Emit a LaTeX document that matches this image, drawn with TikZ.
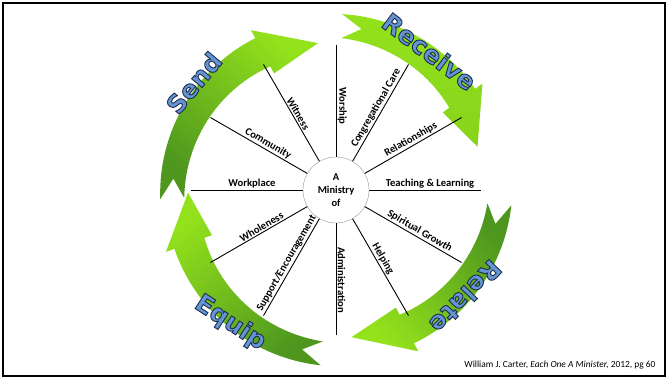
\documentclass[tikz,border=0pt]{standalone}
\usepackage{fontspec}
\setmainfont{Carlito}
\newfontfamily\wordfont{DejaVu Sans}
\definecolor{limegreen}{RGB}{148,226,28}
\definecolor{leafgreen}{RGB}{78,150,30}
\definecolor{wordblue}{RGB}{100,148,210}
\definecolor{hubgrey}{RGB}{150,150,150}

% blue letters with a dark navy outline (text render mode 2)
\newcommand{\bigword}[1]{\special{pdf:literal direct q}{\color{wordblue}%
  \special{pdf:literal direct 2 Tr 0.9 w 0.12 0.18 0.31 RG}#1%
  \special{pdf:literal direct 0 Tr}}\special{pdf:literal direct Q}}
% curved arrow round the hub: [extra shading], tail angle, head base angle, tip angle, shading angle
\newcommand{\ringarrow}[5][]{%
  \shade[top color=limegreen, bottom color=leafgreen, shading angle=#5, #1]
    plot[variable=\a, domain=#2:#3, samples=30] (\a:{rout(\a,#2,#3)})
    -- (#3:181) -- (#4:148) -- (#3:132)
    -- plot[variable=\a, domain=#3:#2, samples=30] (\a:{rin(\a,#2,#3)})
    -- ({#2-7}:163) -- cycle;}

\begin{document}
\begin{tikzpicture}[x=1pt, y=1pt,
  declare function={
    fr(\a,\t,\b) = (\a-\t)/(\b-\t);
    rout(\a,\t,\b) = 164 - 8*fr(\a,\t,\b) + 12 + 4*fr(\a,\t,\b);
    rin(\a,\t,\b) = 164 - 8*fr(\a,\t,\b) - 12 - 4*fr(\a,\t,\b);
  },
  spoke/.style={line width=0.9pt},
  hub/.style={circle, draw=hubgrey, fill=white, minimum size=66pt, inner sep=0pt,
    align=center, font=\bfseries\fontsize{10.5}{13}\selectfont},
  lbl/.style={font=\bfseries\fontsize{10.6}{12}\selectfont, inner sep=1.5pt, anchor=south},
  word/.style={font=\wordfont\bfseries\fontsize{25}{30}\selectfont, inner sep=0pt}]
  \useasboundingbox (-336,-188) rectangle (332,190);
  \draw[line width=2pt] (-332.5,186.5) rectangle (328.5,-185.5);

  % the four arrows
  \ringarrow{183}{118}{97}{-41}
  \ringarrow[middle color=leafgreen!85!limegreen, bottom color=limegreen!80!leafgreen]{88}{36}{17}{-130}
  \ringarrow{-5}{-63}{-84}{133}
  \ringarrow{265}{200}{181}{40}

  \node[hub] (hub) at (0,0) {A\\Ministry\\of};

  \foreach \ang/\rot/\dist/\txt in {90/-90/84/Worship, 60/60/91/Congregational Care,
      30/30/90/Relationships, 0/0/94/Teaching \& Learning, -30/-30/93/Spiritual Growth,
      -60/-60/83/Helping, -90/-90/90/Administration, 240/60/88/{Support/Encouragement},
      210/30/83/Wholeness, 180/0/84/Workplace, 150/-30/82/Community, 120/-60/85/Witness}{
    \coordinate (end\ang) at (\ang:145);
    \draw[spoke] (hub.\ang) -- (end\ang);
    \node[lbl, rotate=\rot] (lbl\ang) at (\ang:\dist) {\txt};
  }

  \node[word, rotate=50] (send) at (143:178) {\bigword{Send}};
  \node[word, rotate=-37] (receive) at (56:167) {\bigword{Receive}};
  \node[word, rotate=-134] (relate) at (-39.5:168) {\bigword{Relate}};
  \node[word, rotate=-33] (equip) at (-128.5:170) {\bigword{Equip}};

  \node[anchor=east, font=\fontsize{9.4}{11}\selectfont] (cite) at (323,-175)
    {William J. Carter, \textit{Each One A Minister,} 2012, pg 60};
\end{tikzpicture}
\end{document}
